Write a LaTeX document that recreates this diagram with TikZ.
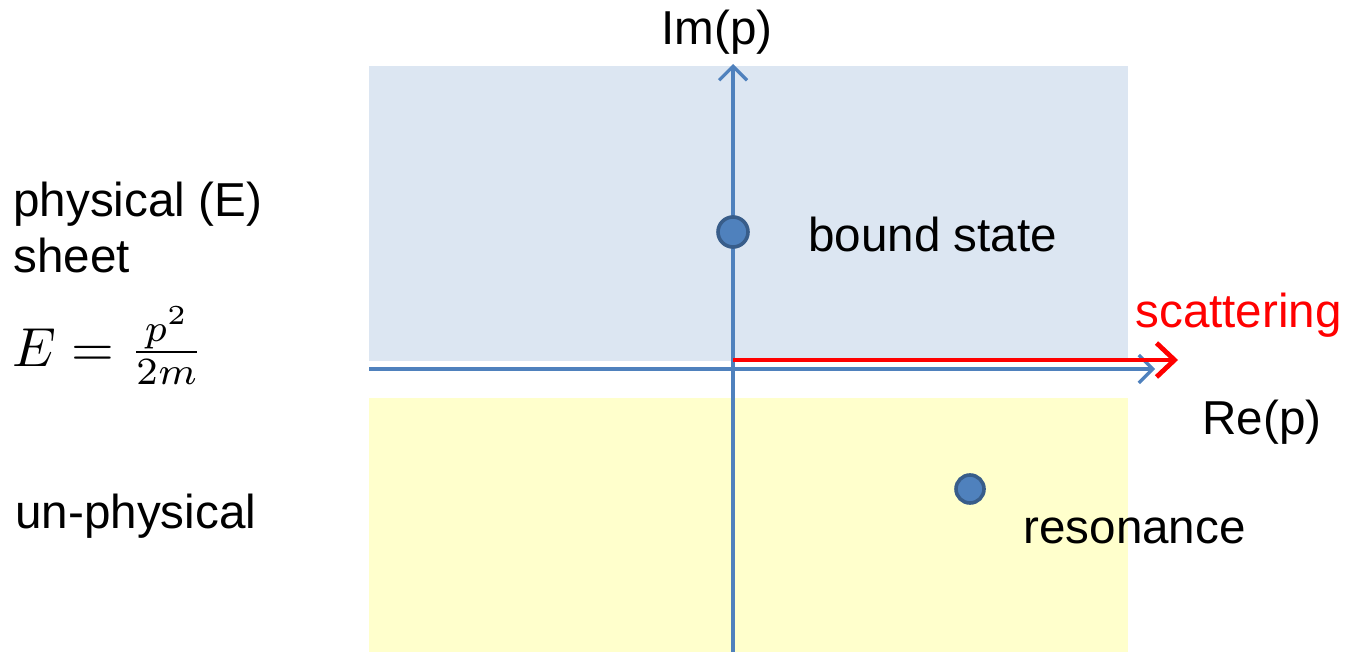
\documentclass[tikz,border=0pt]{standalone}
\usepackage{fontspec}
\setmainfont{Liberation Sans}
\usetikzlibrary{arrows.meta}
\definecolor{upperfill}{HTML}{DCE6F2}
\definecolor{lowerfill}{HTML}{FFFFCC}
\definecolor{axisblue}{HTML}{4F81BD}
\definecolor{dotedge}{HTML}{385D8A}
\definecolor{scatred}{HTML}{FF0000}
\tikzset{
  lbl/.style={font=\fontsize{23.8pt}{28pt}\selectfont, inner sep=0pt, anchor=base west},
  axisline/.style={draw=axisblue, line width=1.6pt, -{Straight Barb[length=7pt,width=14pt,line width=1.6pt]}},
  polept/.style={circle, fill=axisblue, draw=dotedge, line width=1.8pt, minimum size=15pt, inner sep=0pt},
}
\begin{document}
\begin{tikzpicture}[x=0.5pt,y=-0.5pt]
\useasboundingbox (0,0) rectangle (1347,652);
% regions
\fill[upperfill] (369,66) rectangle (1128,361);
\fill[lowerfill] (369,398) rectangle (1128,652);
% axes
\coordinate (xs) at (369,369);
\coordinate (xe) at (1155,369);
\coordinate (ys) at (733,652);
\coordinate (ye) at (733,64);
\coordinate (rs) at (733,360);
\coordinate (re) at (1178,360);
\draw[axisline] (xs) -- (xe);
\draw[axisline] (ys) -- (ye);
\draw[draw=scatred, line width=2.4pt, -{Straight Barb[length=9pt,width=17pt,line width=2.4pt]}] (rs) -- (re);
% poles
\node[polept] (bound) at (733,232) {};
\node[polept, minimum size=14pt] (reson) at (970,489) {};
% labels
\node[lbl] (im) at (661,45) {Im(p)};
\node[lbl] (re) at (1202,434) {Re(p)};
\node[lbl] (bs) at (808,251) {bound state};
\node[lbl, text=scatred] (sc) at (1135,327) {scattering};
\node[lbl] (res) at (1023,543) {resonance};
\node[lbl] (ph) at (13,217) {physical (E)};
\node[lbl] (sh) at (13,272) {sheet};
\node[lbl] (un) at (15,528) {un-physical};
\node[inner sep=0pt, anchor=base west] (eq) at (12,366) {\scalebox{2.75}{$E=\frac{p^2}{2m}$}};
\end{tikzpicture}
\end{document}
